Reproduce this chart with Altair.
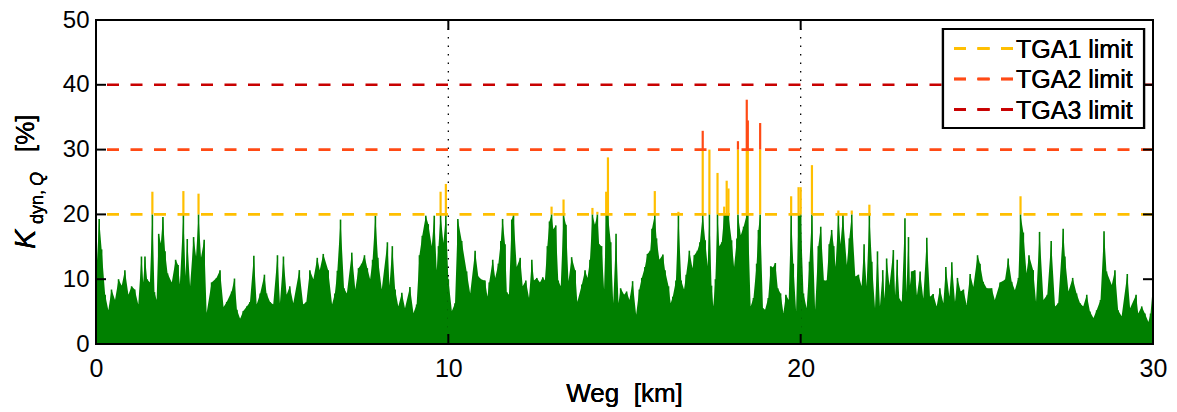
import altair as alt
import pandas as pd

# ---------------- data ----------------
WEG_KM = [
    0.00, 0.09, 0.16, 0.26, 0.35, 0.44, 0.54, 0.64, 0.73, 0.82, 0.92, 1.01, 1.10, 1.20, 1.29, 1.34,
    1.39, 1.45, 1.53, 1.60, 1.66, 1.72, 1.78, 1.84, 1.90, 1.96, 2.03, 2.15, 2.26, 2.33, 2.38, 2.48,
    2.54, 2.59, 2.67, 2.77, 2.84, 2.91, 2.98, 3.07, 3.14, 3.28, 3.42, 3.52, 3.62, 3.71, 3.85, 3.93,
    4.00, 4.09, 4.18, 4.28, 4.37, 4.48, 4.56, 4.66, 4.78, 4.84, 4.94, 5.03, 5.15, 5.22, 5.32, 5.41,
    5.50, 5.60, 5.77, 5.88, 5.97, 6.07, 6.17, 6.28, 6.35, 6.45, 6.59, 6.70, 6.78, 6.85, 6.94, 7.04,
    7.12, 7.26, 7.36, 7.45, 7.54, 7.62, 7.70, 7.78, 7.85, 7.93, 8.00, 8.11, 8.27, 8.33, 8.41, 8.49,
    8.58, 8.68, 8.77, 8.91, 9.01, 9.10, 9.18, 9.26, 9.36, 9.43, 9.53, 9.60, 9.67, 9.72, 9.78, 9.86,
    9.93, 10.00, 10.10, 10.19, 10.27, 10.38, 10.52, 10.62, 10.76, 10.85,
    10.95, 11.04, 11.11, 11.16, 11.26, 11.33, 11.42, 11.49, 11.54, 11.61, 11.66, 11.72, 11.80, 11.85,
    11.94, 12.04, 12.11, 12.20, 12.29, 12.37, 12.43, 12.51, 12.60, 12.68, 12.74, 12.81, 12.87, 12.93,
    12.98, 13.05, 13.12, 13.19, 13.27, 13.34, 13.41, 13.50, 13.60, 13.66, 13.79, 13.88, 13.95, 14.02,
    14.09, 14.16, 14.23, 14.28, 14.35, 14.42, 14.48, 14.53, 14.61, 14.68, 14.76, 14.83, 14.89, 14.99,
    15.06, 15.14, 15.23, 15.33, 15.42, 15.49, 15.58, 15.65, 15.73, 15.78, 15.86, 15.91, 15.99, 16.09,
    16.15, 16.25, 16.31, 16.37, 16.46, 16.53, 16.61, 16.69, 16.75, 16.84, 16.93, 16.98, 17.07, 17.14,
    17.22, 17.29, 17.36, 17.41, 17.47, 17.52, 17.58, 17.64, 17.69, 17.76, 17.83, 17.90, 17.95, 18.04,
    18.11, 18.19, 18.22, 18.30, 18.38, 18.47, 18.50, 18.58, 18.66, 18.75, 18.80, 18.85, 18.93, 18.99,
    19.08, 19.15, 19.21, 19.28, 19.35, 19.43, 19.51, 19.58, 19.66, 19.73, 19.79, 19.87, 19.94, 20.00,
    20.08, 20.17, 20.25, 20.32, 20.41, 20.50, 20.57, 20.66, 20.74, 20.81, 20.88, 20.94, 20.99, 21.07,
    21.13, 21.20, 21.31, 21.38, 21.45, 21.55, 21.64, 21.73, 21.80, 21.87, 21.95, 22.02, 22.11, 22.18,
    22.25, 22.33, 22.38, 22.44, 22.52, 22.63, 22.68, 22.74, 22.80, 22.87, 22.96, 23.00, 23.06, 23.10,
    23.15, 23.24, 23.30, 23.39, 23.48, 23.58,
    23.67, 23.76, 23.86, 23.95, 24.05, 24.12, 24.22, 24.29, 24.38, 24.45, 24.54, 24.62, 24.71, 24.81,
    24.90, 25.02, 25.09, 25.18, 25.28, 25.42, 25.51, 25.66, 25.80, 25.89, 25.99, 26.08, 26.18, 26.24,
    26.32, 26.41, 26.48, 26.60, 26.68, 26.78, 26.89, 27.00, 27.11, 27.22, 27.31, 27.45, 27.50, 27.60,
    27.72, 27.83, 27.93, 28.02, 28.12, 28.21, 28.31, 28.40, 28.51, 28.61, 28.68, 28.83, 28.92, 29.01,
    29.11, 29.27, 29.35, 29.52, 29.58, 29.68, 29.77, 29.87, 29.93, 30.00,
]
K_DYN = [
    9.9, 19.3, 14.6, 7.6, 5.2, 8.4, 6.8, 10.0, 9.0, 11.4, 7.6, 8.9, 8.4, 6.1, 13.5, 9.5,
    13.5, 10.0, 9.5, 23.5, 8.0, 6.8, 17.0, 15.5, 19.6, 14.3, 10.9, 9.5, 13.0, 12.2, 9.2, 23.6,
    10.5, 16.2, 8.9, 16.5, 13.5, 23.2, 13.3, 16.1, 4.8, 9.5, 10.2, 11.4, 5.7, 6.5, 8.1, 10.1,
    5.3, 3.9, 5.1, 5.8, 6.5, 13.6, 6.1, 7.8, 10.7, 7.8, 6.5, 6.1, 13.7, 6.3, 13.5, 7.6,
    8.9, 6.3, 11.4, 6.1, 6.5, 11.4, 10.0, 13.3, 11.4, 13.9, 11.4, 6.1, 7.8, 11.3, 19.2, 8.6,
    7.8, 14.1, 8.4, 11.7, 12.4, 13.7, 11.7, 10.0, 13.0, 19.8, 13.3, 8.4, 15.7, 9.0, 15.1, 8.4,
    5.8, 7.9, 5.5, 8.8, 4.8, 6.1, 13.7, 16.7, 19.8, 18.5, 15.1, 19.8, 11.4, 15.1, 23.5, 15.6,
    24.7, 10.0, 5.1, 6.3, 19.3, 15.9, 11.2, 7.8, 14.4, 10.4,
    9.9, 9.8, 7.3, 9.5, 13.0, 10.2, 12.4, 15.9, 19.3, 15.4, 8.0, 7.6, 19.2, 19.9,
    11.9, 13.3, 8.9, 9.8, 7.1, 13.0, 9.8, 10.2, 9.5, 10.3, 9.8, 15.1, 18.9, 21.2,
    17.7, 18.3, 9.8, 8.9, 22.3, 18.4, 9.7, 13.4, 11.4, 6.5, 9.2, 11.4, 10.2, 13.0,
    21.0, 18.4, 20.4, 15.4, 15.1, 8.4, 23.5, 28.8, 15.7, 6.3, 17.0, 6.3, 8.6, 7.6,
    8.1, 6.8, 9.7, 4.5, 8.4, 10.2, 11.9, 13.9, 14.4, 17.8, 23.6, 16.3, 13.0, 13.8,
    11.4, 8.9, 6.3, 7.3, 9.8, 20.4, 9.8, 8.4, 10.7, 14.4, 11.7, 13.7, 14.4, 15.7,
    32.9, 16.0, 12.0, 30.0, 9.0, 5.8, 10.0, 26.4, 15.1, 15.7, 21.2, 25.2, 24.0, 16.0,
    11.9, 16.3, 31.3, 16.8, 18.1, 37.7, 34.5, 5.8, 7.1, 12.4, 17.6, 34.1, 5.5, 5.3,
    7.1, 12.0, 11.8, 12.5, 8.6, 7.8, 4.8, 7.6, 6.8, 22.8, 12.4, 5.1, 24.2, 24.2,
    7.8, 5.5, 12.7, 27.6, 5.3, 15.1, 18.1, 9.8, 9.8, 15.4, 17.6, 15.1, 11.9, 20.6,
    15.4, 19.9, 12.2, 16.3, 20.6, 10.4, 10.7, 8.9, 15.4, 8.9, 21.5, 12.7, 5.5, 14.3,
    5.8, 11.4, 7.0, 13.2, 9.0, 14.5, 7.5, 13.0, 7.0, 6.5, 19.4, 8.0, 16.5, 9.0,
    11.2, 11.4, 7.5, 11.2, 7.0, 16.4,
    7.3, 7.7, 5.8, 8.6, 6.3, 11.9, 7.3, 12.6, 6.5, 10.2, 8.1, 8.4, 6.0, 10.8,
    8.8, 13.7, 12.4, 9.6, 8.6, 8.6, 6.8, 9.5, 9.9, 13.2, 9.6, 8.3, 10.2, 22.8,
    17.2, 10.9, 13.7, 11.4, 6.5, 17.3, 6.8, 7.6, 15.9, 5.8, 6.3, 17.8, 13.5, 8.1,
    10.2, 7.8, 6.3, 5.8, 7.6, 5.0, 4.0, 5.2, 6.8, 17.4, 11.2, 9.1, 11.4, 5.2,
    4.3, 10.8, 5.5, 7.6, 4.7, 5.8, 4.7, 3.4, 4.7, 9.1,
]
TGA_LIMITS = [20, 30, 40]
TGA_LABELS = ["TGA1 limit", "TGA2 limit", "TGA3 limit"]
TGA_COLORS = ["#FFBF00", "#FF4A14", "#C80000"]
DATA_GREEN = "#008000"
X_TICKS = [0, 10, 20, 30]
Y_TICKS = [0, 10, 20, 30, 40, 50]
GRID_X = [10, 20]

W, H = 1057, 324
FONT = "Liberation Sans"

df = pd.DataFrame({"km": WEG_KM, "v": K_DYN})
df["g"] = df["v"].clip(upper=TGA_LIMITS[0])
df["lo1"] = TGA_LIMITS[0]
df["hi1"] = df["v"].clip(upper=TGA_LIMITS[1])
df["lo2"] = TGA_LIMITS[1]

xs = alt.Scale(domain=[0, 30], nice=False, zero=False)
ys = alt.Scale(domain=[0, 50], nice=False, zero=False)

x_axis = alt.Axis(values=X_TICKS, title=None, grid=False, domain=False, ticks=False,
                  tickSize=0, labelPadding=12, labelFontSize=25, labelFont=FONT,
                  labelColor="black", format="d", labelFlush=False)
y_axis = alt.Axis(values=Y_TICKS, title=None, grid=False, domain=False, ticks=False,
                  tickSize=0, labelPadding=7, labelFontSize=24, labelFont=FONT,
                  labelColor="black", format="d", labelFlush=False)

base = alt.Chart(df)

area = base.mark_area(color=DATA_GREEN, interpolate="linear", opacity=1).encode(
    x=alt.X("km:Q", scale=xs, axis=x_axis),
    y=alt.Y("g:Q", scale=ys, axis=y_axis),
    y2=alt.datum(0),
)
grid = alt.Chart(pd.DataFrame({"x": GRID_X})).mark_rule(
    color="black", strokeWidth=1.3, strokeDash=[1.5, 7]
).encode(x=alt.X("x:Q", scale=xs))

green_rules = base.mark_rule(color=DATA_GREEN, strokeWidth=1.6).encode(
    x=alt.X("km:Q", scale=xs), y=alt.Y("g:Q", scale=ys), y2=alt.datum(0)
)
yellow_rules = base.transform_filter(alt.datum.v > TGA_LIMITS[0]).mark_rule(
    color=TGA_COLORS[0], strokeWidth=2.2
).encode(x=alt.X("km:Q", scale=xs), y=alt.Y("lo1:Q", scale=ys), y2="hi1:Q")
red_rules = base.transform_filter(alt.datum.v > TGA_LIMITS[1]).mark_rule(
    color=TGA_COLORS[1], strokeWidth=2.2
).encode(x=alt.X("km:Q", scale=xs), y=alt.Y("lo2:Q", scale=ys), y2="v:Q")

lim_df = pd.DataFrame({"limit": TGA_LIMITS, "label": TGA_LABELS})
limits = alt.Chart(lim_df).mark_rule(strokeWidth=2.6, strokeDash=[12, 11.5]).encode(
    y=alt.Y("limit:Q", scale=ys),
    color=alt.Color("label:N", scale=alt.Scale(domain=TGA_LABELS, range=TGA_COLORS), legend=None),
)

# inward ticks (box style)
yt = pd.DataFrame({"y": Y_TICKS})
xt = pd.DataFrame({"x": X_TICKS})
tick_style = dict(color="black", strokeWidth=2)
ticks_left = alt.Chart(yt).mark_rule(**tick_style).encode(
    y=alt.Y("y:Q", scale=ys), x=alt.value(0), x2=alt.value(10))
ticks_right = alt.Chart(yt).mark_rule(**tick_style).encode(
    y=alt.Y("y:Q", scale=ys), x=alt.value(W - 10), x2=alt.value(W))
ticks_top = alt.Chart(xt).mark_rule(**tick_style).encode(
    x=alt.X("x:Q", scale=xs), y=alt.value(0), y2=alt.value(10))
ticks_bottom = alt.Chart(xt).mark_rule(**tick_style).encode(
    x=alt.X("x:Q", scale=xs), y=alt.value(H - 10), y2=alt.value(H))

frame = alt.Chart(lim_df).mark_rect(fillOpacity=0, stroke="black", strokeWidth=2).encode(
    x=alt.value(0), x2=alt.value(W), y=alt.value(0), y2=alt.value(H))

# legend box
LX0, LX1, LY0, LY1 = 847, 1048, 9, 108
ROWS = [28.5, 59, 89.5]
legend_layers = [
    alt.Chart(lim_df).mark_rect(fill="white", stroke="black", strokeWidth=2.2).encode(
        x=alt.value(LX0), x2=alt.value(LX1), y=alt.value(LY0), y2=alt.value(LY1))
]
for lab, col, ry in zip(TGA_LABELS, TGA_COLORS, ROWS):
    legend_layers.append(
        alt.Chart(lim_df).mark_rule(color=col, strokeWidth=2.6, strokeDash=[12, 11.5]).encode(
            x=alt.value(858), x2=alt.value(917), y=alt.value(ry)))
    legend_layers.append(
        alt.Chart(lim_df).mark_text(text=lab, align="left", baseline="middle", fontSize=25,
                                    font=FONT, color="black").encode(
            x=alt.value(920), y=alt.value(ry + 1)))

# axis titles
title_layers = [
    alt.Chart(lim_df).mark_text(text="K", angle=270, align="left", baseline="alphabetic",
                                fontSize=29, fontStyle="italic", font=FONT, color="black").encode(
        x=alt.value(-61), y=alt.value(229)),
    alt.Chart(lim_df).mark_text(text="dyn,", angle=270, align="left", baseline="alphabetic",
                                fontSize=18, font=FONT, color="black").encode(
        x=alt.value(-53), y=alt.value(204)),
    alt.Chart(lim_df).mark_text(text="Q", angle=270, align="left", baseline="alphabetic",
                                fontSize=18, fontStyle="italic", font=FONT, color="black").encode(
        x=alt.value(-53), y=alt.value(166)),
    alt.Chart(lim_df).mark_text(text="[%]", angle=270, align="left", baseline="alphabetic",
                                fontSize=26, font=FONT, color="black").encode(
        x=alt.value(-62), y=alt.value(132)),
    alt.Chart(lim_df).mark_text(text="Weg\u00a0\u00a0[km]", align="center", baseline="alphabetic",
                                fontSize=26, font=FONT, color="black").encode(
        x=alt.value(W / 2), y=alt.value(382)),
]

chart = alt.layer(
    area, grid, green_rules, yellow_rules, red_rules, limits,
    ticks_left, ticks_right, ticks_top, ticks_bottom, frame,
    *legend_layers, *title_layers,
).properties(
    width=W, height=H,
    autosize=alt.AutoSizeParams(type="none"),
    padding={"left": 88, "top": 12, "right": 16, "bottom": 64},
    background="white",
).configure_view(strokeWidth=0)

chart.save("out.html", embed_options={"renderer": "svg", "actions": False})
